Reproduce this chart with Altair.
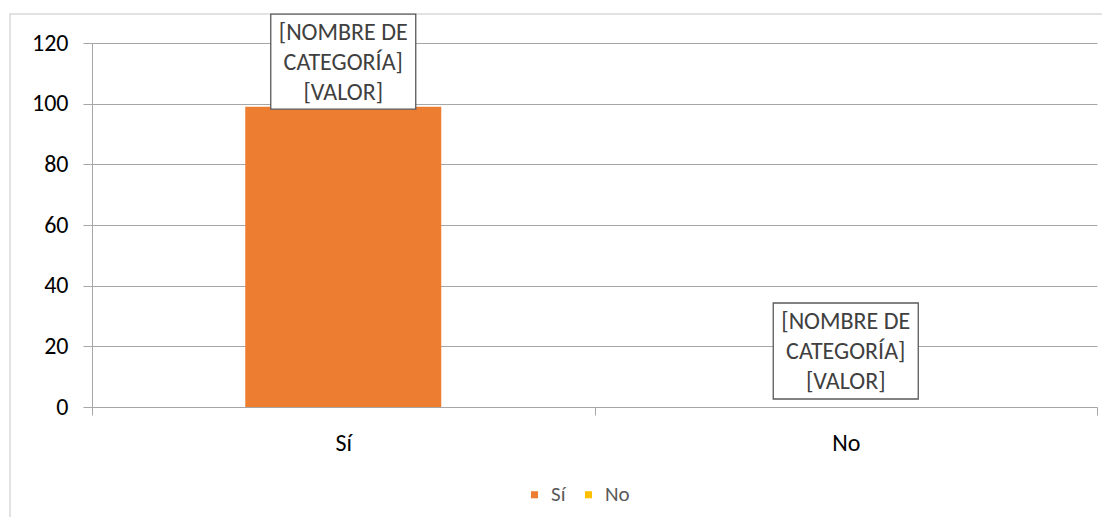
import altair as alt
import pandas as pd

categories = ["Sí", "No"]
values = [99, 0]
label_lines = ["[NOMBRE DE", "CATEGORÍA]", "[VALOR]"]
colors = ["#ED7D31", "#FFC000"]

df = pd.DataFrame({"categoria": categories, "valor": values})

FONT = "Carlito, Liberation Sans, Arial, sans-serif"
GRAY = "#a6a6a6"

x_enc = alt.X(
    "categoria:N",
    sort=categories,
    scale=alt.Scale(paddingInner=0, paddingOuter=0),
    axis=alt.Axis(
        title=None, labelAngle=0, tickBand="extent", tickSize=8,
        labelPadding=16, labelFontSize=24, labelColor="#000000",
        labelFont=FONT, domain=False, tickColor=GRAY, grid=False,
    ),
)
y_enc = alt.Y(
    "valor:Q",
    scale=alt.Scale(domain=[0, 120], nice=False),
    axis=alt.Axis(
        title=None, values=[0, 20, 40, 60, 80, 100, 120], tickSize=9,
        labelPadding=15, labelFontSize=24, labelColor="#000000",
        labelFont=FONT, domainColor=GRAY, tickColor=GRAY,
        gridColor=GRAY, gridWidth=1,
    ),
)

base = alt.Chart(df)

border = alt.Chart(alt.Data(values=[{"b": 1}])).mark_rect(
    fillOpacity=0, stroke="#d9d9d9", strokeWidth=1.5
).encode(x=alt.value(-82), x2=alt.value(1013), y=alt.value(-29), y2=alt.value(477))

bars = base.mark_bar(size=196).encode(
    x=x_enc,
    y=y_enc,
    color=alt.Color(
        "categoria:N",
        sort=categories,
        scale=alt.Scale(domain=categories, range=colors),
        legend=alt.Legend(
            title=None, orient="none", direction="horizontal",
            legendX=432, legendY=441, symbolType="square", symbolSize=50,
            symbolStrokeWidth=0, labelFontSize=21, labelColor="#595959",
            labelFont=FONT, columnPadding=12, symbolOffset=0, labelOffset=6,
        ),
    ),
)

box_si = base.transform_filter(alt.datum.categoria == "Sí").mark_bar(
    size=145, fill="white", stroke="#595959", strokeWidth=1.3,
    yOffset=-92.5, y2Offset=2.5,
).encode(x=alt.X("categoria:N", sort=categories), y="valor:Q", y2="valor:Q")

box_no = base.transform_filter(alt.datum.categoria == "No").mark_bar(
    size=145, fill="white", stroke="#595959", strokeWidth=1.3,
    yOffset=-104, y2Offset=-8,
).encode(x=alt.X("categoria:N", sort=categories), y="valor:Q", y2="valor:Q")

txt_si = base.transform_filter(alt.datum.categoria == "Sí").mark_text(
    fontSize=24, font=FONT, color="#404040", lineHeight=30,
    baseline="middle", dy=-73.5,
).encode(x=alt.X("categoria:N", sort=categories), y="valor:Q", text=alt.value(label_lines))

txt_no = base.transform_filter(alt.datum.categoria == "No").mark_text(
    fontSize=24, font=FONT, color="#404040", lineHeight=30,
    baseline="middle", dy=-85,
).encode(x=alt.X("categoria:N", sort=categories), y="valor:Q", text=alt.value(label_lines))

chart = alt.layer(border, bars, box_si, box_no, txt_si, txt_no).properties(
    width=1005, height=364,
    autosize=alt.AutoSizeParams(type="none"),
    padding={"left": 84, "top": 35, "right": 5, "bottom": 110},
).configure_view(stroke=None)

chart.save("out.html", embed_options={"renderer": "svg", "actions": False})
